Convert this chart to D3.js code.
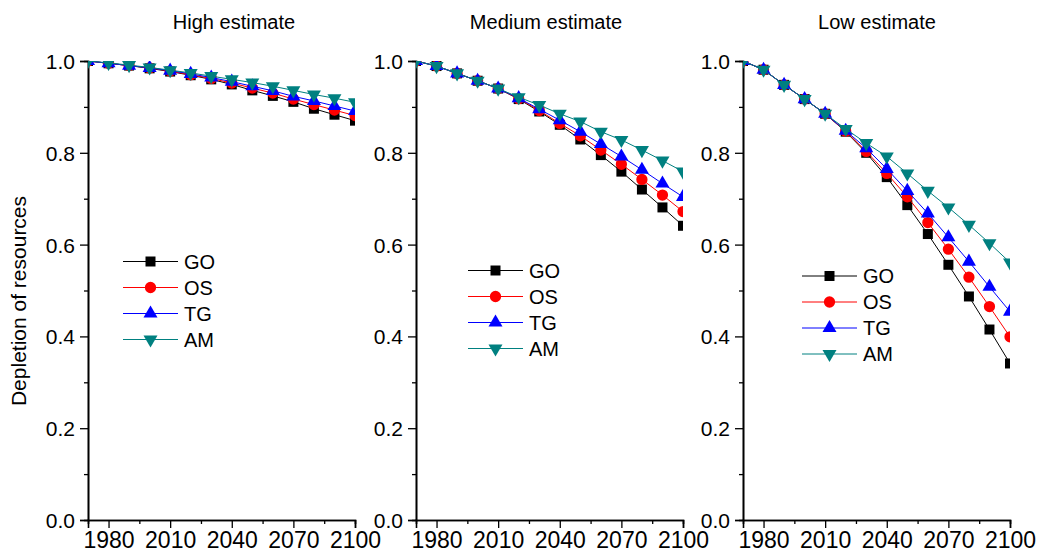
<!DOCTYPE html>
<html><head><meta charset="utf-8">
<script src="https://cdn.jsdelivr.net/npm/d3@7"></script>
<style>body{margin:0;background:#fff;} svg{display:block;} text{font-family:Arial,"Liberation Sans",sans-serif;fill:#000;}</style>
</head><body>
<svg id="c" width="1037" height="559"></svg>
<script>
const years = [1970,1980,1990,2000,2010,2020,2030,2040,2050,2060,2070,2080,2090,2100];
const seriesNames = ["GO","OS","TG","AM"];
const panelTitles = ["High estimate","Medium estimate","Low estimate"];
const xTickValues = [1980,2010,2040,2070,2100];
const xMinorTicks = [1995,2025,2055,2085];
const yTickValues = [0.0,0.2,0.4,0.6,0.8,1.0];
const yMinorTicks = [0.1,0.3,0.5,0.7,0.9];

const high_GO = [1.0,0.995,0.990,0.984,0.977,0.969,0.960,0.949,0.936,0.924,0.911,0.896,0.883,0.870];
const high_OS = [1.0,0.995,0.990,0.985,0.978,0.970,0.962,0.952,0.941,0.930,0.917,0.905,0.893,0.881];
const high_TG = [1.0,0.995,0.990,0.985,0.979,0.972,0.964,0.955,0.945,0.935,0.923,0.913,0.902,0.891];
const high_AM = [1.0,0.996,0.991,0.986,0.980,0.974,0.967,0.960,0.953,0.945,0.936,0.927,0.919,0.910];

const med_GO = [1.0,0.989,0.973,0.957,0.940,0.917,0.890,0.861,0.829,0.795,0.759,0.720,0.681,0.641];
const med_OS = [1.0,0.989,0.973,0.957,0.940,0.918,0.892,0.864,0.837,0.806,0.775,0.742,0.708,0.672];
const med_TG = [1.0,0.989,0.973,0.957,0.940,0.919,0.895,0.871,0.846,0.819,0.792,0.763,0.733,0.704];
const med_AM = [1.0,0.989,0.973,0.957,0.940,0.921,0.904,0.885,0.868,0.846,0.828,0.806,0.783,0.759];

const low_GO = [1.0,0.981,0.948,0.917,0.885,0.846,0.800,0.747,0.686,0.623,0.556,0.487,0.415,0.341];
const low_OS = [1.0,0.981,0.948,0.917,0.885,0.847,0.803,0.755,0.704,0.648,0.590,0.529,0.465,0.399];
const low_TG = [1.0,0.981,0.948,0.917,0.885,0.848,0.810,0.765,0.717,0.668,0.616,0.563,0.508,0.454];
const low_AM = [1.0,0.981,0.948,0.917,0.885,0.852,0.821,0.792,0.755,0.717,0.681,0.643,0.603,0.561];

const panelsData = [
  [high_GO, high_OS, high_TG, high_AM],
  [med_GO, med_OS, med_TG, med_AM],
  [low_GO, low_OS, low_TG, low_AM]
];

// styling / layout
const colors = ["#000000","#ff0000","#0000ff","#008080"];
const symbols = [d3.symbolSquare, d3.symbolCircle, d3.symbolTriangle, d3.symbolTriangle];
const symSizes = [100, 100, 85, 85];
const rotations = [0,0,0,180];
const panelX = [88, 416, 743];
const panelW = 267;
const plotTop = 61, plotBottom = 520;
const titleCX = [234, 546, 877];
const legendPos = [{x:123, y:261.5},{x:468, y:270.5},{x:802, y:276}];

const svg = d3.select("#c");
const y = d3.scaleLinear().domain([0,1]).range([plotBottom, plotTop]);

panelsData.forEach((pdata, pi) => {
  const x = d3.scaleLinear().domain([1970,2100]).range([panelX[pi], panelX[pi]+panelW]);
  const g = svg.append("g");

  const clipId = "clip"+pi;
  svg.append("clipPath").attr("id", clipId).append("rect")
    .attr("x", panelX[pi]).attr("y", plotTop).attr("width", panelW).attr("height", plotBottom-plotTop);

  // axes
  const yAxis = d3.axisLeft(y).tickValues(yTickValues).tickFormat(d3.format(".1f")).tickSize(8).tickPadding(5);
  const ya = g.append("g").attr("transform", `translate(${panelX[pi]},0)`).call(yAxis);
  ya.selectAll("text").style("font-size","21px").attr("dy","0.36em");
  const yMinor = d3.axisLeft(y).tickValues(yMinorTicks).tickFormat("").tickSize(4);
  g.append("g").attr("transform", `translate(${panelX[pi]},0)`).call(yMinor);

  const xAxis = d3.axisBottom(x).tickValues(xTickValues).tickFormat(d3.format("d")).tickSize(8).tickPadding(4);
  const xa = g.append("g").attr("transform", `translate(0,${plotBottom})`).call(xAxis);
  xa.selectAll("text").style("font-size","23px").attr("dy","0.71em");
  const xMinor = d3.axisBottom(x).tickValues(xMinorTicks).tickFormat("").tickSize(4);
  g.append("g").attr("transform", `translate(0,${plotBottom})`).call(xMinor);

  g.selectAll(".domain").attr("stroke","#000").attr("stroke-width",1.6);
  g.selectAll(".tick line").attr("stroke","#000").attr("stroke-width",1.3);
  g.selectAll(".tick text").attr("fill","#000").style("font-family","Arial, 'Liberation Sans', sans-serif");

  // title
  svg.append("text").attr("x", titleCX[pi]).attr("y", 29).attr("text-anchor","middle")
    .style("font-size","20px").text(panelTitles[pi]);

  // series
  const plot = svg.append("g").attr("clip-path", `url(#${clipId})`);
  pdata.forEach((vals, si) => {
    const pts = years.map((yr,i)=>[yr, vals[i]]);
    plot.append("path").datum(pts)
      .attr("fill","none").attr("stroke", colors[si]).attr("stroke-width",1)
      .attr("d", d3.line().x(d=>x(d[0])).y(d=>y(d[1])));
    plot.selectAll(null).data(pts).enter().append("path")
      .attr("d", d3.symbol().type(symbols[si]).size(symSizes[si]))
      .attr("fill", colors[si])
      .attr("transform", d=>`translate(${x(d[0])},${y(d[1])}) rotate(${rotations[si]})`);
  });

  // legend
  const lp = legendPos[pi];
  seriesNames.forEach((name, si) => {
    const ly = lp.y + si*26;
    const lg = svg.append("g");
    lg.append("line").attr("x1", lp.x).attr("x2", lp.x+55).attr("y1", ly).attr("y2", ly)
      .attr("stroke", colors[si]).attr("stroke-width",1);
    lg.append("path").attr("d", d3.symbol().type(symbols[si]).size(symSizes[si]))
      .attr("fill", colors[si])
      .attr("transform", `translate(${lp.x+27.5},${ly}) rotate(${rotations[si]})`);
    lg.append("text").attr("x", lp.x+61).attr("y", ly).attr("dy","0.36em")
      .style("font-size","20px").text(name);
  });
});

// y-axis label
svg.append("text").attr("transform","translate(26,301) rotate(-90)")
  .attr("text-anchor","middle").style("font-size","21px").text("Depletion of resources");
</script>
</body></html>
